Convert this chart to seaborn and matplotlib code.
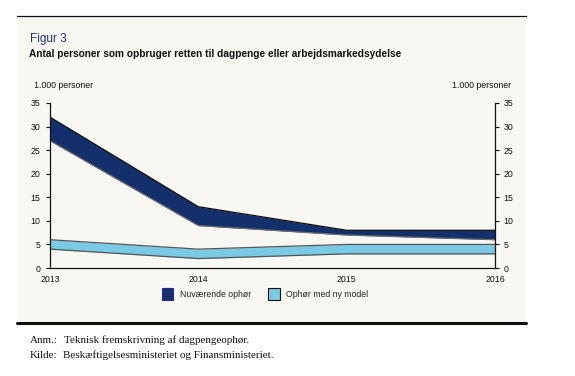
import seaborn as sns
import matplotlib.pyplot as plt
import pandas as pd
from matplotlib import font_manager
from matplotlib.patches import Patch, Rectangle
from matplotlib.lines import Line2D

years = [2013, 2014, 2015, 2016]
nuv_low = [27, 9, 7, 6]
nuv_high = [32, 13, 8, 8]
ny_low = [4, 2, 3, 3]
ny_high = [6, 4, 5, 5]
yticks = [0, 5, 10, 15, 20, 25, 30, 35]

navy = '#14306c'
light = '#7acae6'
bg = '#f8f7f1'

# smal skrift hvis den findes
names = {f.name for f in font_manager.fontManager.ttflist}
narrow = 'Liberation Sans Narrow' if 'Liberation Sans Narrow' in names else 'Liberation Sans'
small = 7 if narrow == 'Liberation Sans Narrow' else 6.3

sns.set_style('white')
plt.rcParams['font.family'] = [narrow, 'DejaVu Sans']

fig = plt.figure(figsize=(5.75, 3.76), dpi=100)
W, H = 575, 376

def fx(px):
    return px / W

def fy(py):
    return 1 - py / H

# baggrund og linjer
fig.patches.append(Rectangle((fx(17), fy(323)), fx(526) - fx(17), fy(16) - fy(323),
                             transform=fig.transFigure, facecolor=bg, edgecolor='none', zorder=-5))
fig.lines.append(Line2D([fx(17), fx(526)], [fy(16), fy(16)], transform=fig.transFigure,
                        color='#111111', lw=0.9))
fig.lines.append(Line2D([fx(17), fx(526)], [fy(323), fy(323)], transform=fig.transFigure,
                        color='#111111', lw=2.2))

ax = fig.add_axes([fx(50), fy(268), fx(495) - fx(50), fy(103) - fy(268)])
ax.patch.set_alpha(0)

df = pd.DataFrame({'år': years, 'nuv_low': nuv_low, 'nuv_high': nuv_high,
                   'ny_low': ny_low, 'ny_high': ny_high})

ax.fill_between(df['år'], df['nuv_low'], df['nuv_high'], color=navy, lw=0)
ax.fill_between(df['år'], df['ny_low'], df['ny_high'], color=light, lw=0)
sns.lineplot(data=df, x='år', y='nuv_high', ax=ax, color='#0a0a0a', lw=0.9)
sns.lineplot(data=df, x='år', y='nuv_low', ax=ax, color='#6a6a6a', lw=0.9)
sns.lineplot(data=df, x='år', y='ny_high', ax=ax, color='#555555', lw=0.9)
sns.lineplot(data=df, x='år', y='ny_low', ax=ax, color='#555555', lw=0.9)

ax.set_xlim(years[0], years[-1])
ax.set_ylim(0, 35)
ax.set_xticks(years)
ax.set_yticks(yticks)
ax.set_xlabel('')
ax.set_ylabel('')
for s in ['top', 'right']:
    ax.spines[s].set_visible(False)
for s in ['left', 'bottom']:
    ax.spines[s].set_color('#111111')
    ax.spines[s].set_linewidth(0.9)
ax.tick_params(axis='both', direction='out', length=3, width=0.8, color='#111111',
               labelsize=small, labelcolor='#111111', pad=2)
ax.tick_params(axis='y', pad=4)

ax2 = ax.twinx()
ax2.set_ylim(0, 35)
ax2.set_yticks(yticks)
for s in ['top', 'left', 'bottom']:
    ax2.spines[s].set_visible(False)
ax2.spines['right'].set_color('#111111')
ax2.spines['right'].set_linewidth(0.9)
ax2.tick_params(axis='y', direction='out', length=3, width=0.8, color='#111111',
                labelsize=small, labelcolor='#111111', pad=3)

fig.text(fx(30), fy(39), 'Figur 3', fontsize=8.5, color='#1f3578', va='center',
         family=['Liberation Sans', 'DejaVu Sans'])
fig.text(fx(29), fy(54), 'Antal personer som opbruger retten til dagpenge eller arbejdsmarkedsydelse',
         fontsize=7.3, fontweight='bold', color='#111111', va='center',
         family=['Liberation Sans', 'DejaVu Sans'])
fig.text(fx(34), fy(86), '1.000 personer', fontsize=small, color='#111111', va='center')
fig.text(fx(511), fy(86), '1.000 personer', fontsize=small, color='#111111', va='center', ha='right')

handles = [Patch(facecolor=navy, edgecolor='#2a2a8a', lw=0.8, label='Nuværende ophør'),
           Patch(facecolor=light, edgecolor='#111111', lw=0.8, label='Ophør med ny model')]
fig.legend(handles=handles, loc='center', bbox_to_anchor=(fx(265), fy(294)), ncol=2,
           frameon=False, fontsize=small, handlelength=1.3, handleheight=1.9,
           handletextpad=0.7, columnspacing=2.0)

serif = ['Liberation Serif', 'DejaVu Serif']
fs = 7.9
fig.text(fx(30), fy(343), 'Anm.:', fontsize=fs, family=serif, va='baseline', color='#111111')
fig.text(fx(64), fy(343), 'Teknisk fremskrivning af dagpengeophør.', fontsize=fs, family=serif,
         va='baseline', color='#111111')
fig.text(fx(30), fy(358), 'Kilde:', fontsize=fs, family=serif, va='baseline', color='#111111')
fig.text(fx(63), fy(358), 'Beskæftigelsesministeriet og Finansministeriet.', fontsize=fs,
         family=serif, va='baseline', color='#111111')

fig.savefig('out.png', dpi=100, facecolor='white')
